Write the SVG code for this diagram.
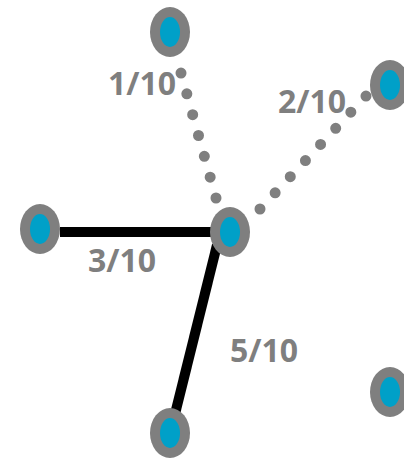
<svg xmlns="http://www.w3.org/2000/svg" width="404" height="458" viewBox="0 0 404 458">
<style>
.outer{fill:#7f7f7f}
.inner{fill:#00a0c8}
.solid{stroke:#000;stroke-width:10;fill:none}
.dots{stroke:#7f7f7f;stroke-width:11;stroke-linecap:round;fill:none}
.lbl{font-family:"Open Sans","Liberation Sans",sans-serif;font-weight:bold;font-size:32px;fill:#7f7f7f}
</style>
<rect width="404" height="458" fill="#fff"/>
<g id="connectors">
<line class="solid" x1="60" y1="232" x2="224" y2="232"/>
<line class="solid" x1="217" y1="245" x2="175" y2="414"/>
<line class="dots" x1="216" y1="198" x2="181" y2="73" stroke-dasharray="0 21.63"/>
<line class="dots" x1="260" y1="209" x2="366" y2="96" stroke-dasharray="0 22.13"/>
</g>
<g id="labels">
<text class="lbl" x="108" y="95">1/10</text>
<text class="lbl" x="278" y="113">2/10</text>
<text class="lbl" x="88" y="272">3/10</text>
<text class="lbl" x="230" y="362">5/10</text>
</g>
<g id="n1"><ellipse class="outer" cx="170" cy="32" rx="20" ry="25"/><ellipse class="inner" cx="170" cy="32" rx="10" ry="15"/></g>
<g id="n2"><ellipse class="outer" cx="390" cy="85" rx="20" ry="25"/><ellipse class="inner" cx="390" cy="85" rx="10" ry="15"/></g>
<g id="n3"><ellipse class="outer" cx="40" cy="229" rx="20" ry="25"/><ellipse class="inner" cx="40" cy="229" rx="10" ry="15"/></g>
<g id="center"><ellipse class="outer" cx="230" cy="232" rx="20" ry="25"/><ellipse class="inner" cx="230" cy="232" rx="10" ry="15"/></g>
<g id="n5"><ellipse class="outer" cx="170" cy="433" rx="20" ry="25"/><ellipse class="inner" cx="170" cy="433" rx="10" ry="15"/></g>
<g id="n6"><ellipse class="outer" cx="390" cy="392" rx="20" ry="25"/><ellipse class="inner" cx="390" cy="392" rx="10" ry="15"/></g>
</svg>
